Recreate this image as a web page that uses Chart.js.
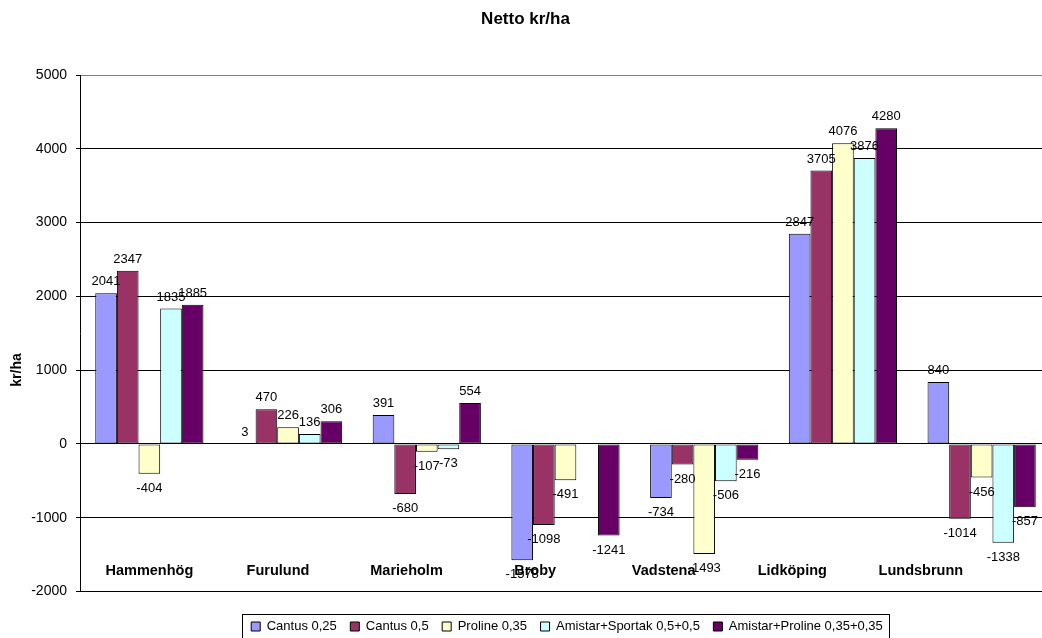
<!DOCTYPE html>
<html>
<head>
<meta charset="utf-8">
<script src="https://cdn.jsdelivr.net/npm/chart.js@4.4.1/dist/chart.umd.min.js"></script>
<style>
  html, body { margin: 0; padding: 0; background: #fff; overflow: hidden; }
  #wrap { width: 1062px; height: 638px; }
</style>
</head>
<body>
<div id="wrap"><canvas id="chart" width="1062" height="638"></canvas></div>
<script>
// data
const categories = ['Hammenhög', 'Furulund', 'Marieholm', 'Broby', 'Vadstena', 'Lidköping', 'Lundsbrunn'];
const seriesNames = ['Cantus 0,25', 'Cantus 0,5', 'Proline 0,35', 'Amistar+Sportak 0,5+0,5', 'Amistar+Proline 0,35+0,35'];
const cantus025 = [2041, 3, 391, -1578, -734, 2847, 840];
const cantus05 = [2347, 470, -680, -1098, -280, 3705, -1014];
const proline035 = [-404, 226, -107, -491, -1493, 4076, -456];
const amistarSportak = [1835, 136, -73, null, -506, 3876, -1338];
const amistarProline = [1885, 306, 554, -1241, -216, 4280, -857];
const yTicks = [-2000, -1000, 0, 1000, 2000, 3000, 4000, 5000];

const colors = ['#9999FF', '#993366', '#FFFFCC', '#CCFFFF', '#660066'];
const FONT = 'Liberation Sans, Arial, sans-serif';
const LEGEND_CENTER = 567;

Chart.defaults.font.family = FONT;
Chart.defaults.color = '#000';

// excel-ish extras: value labels, category labels inside plot, legend frame, y title
const excelBits = {
  id: 'excelBits',
  afterLayout(chart) {
    const lg = chart.legend;
    const dx = LEGEND_CENTER - (lg.left + lg.right) / 2;
    lg.left += dx;
    lg.right += dx;
    lg.legendHitBoxes.forEach(b => { b.left += dx; });
  },
  afterDatasetsDraw(chart) {
    const ctx = chart.ctx;
    ctx.save();
    ctx.fillStyle = '#000';
    ctx.textAlign = 'center';
    ctx.font = '13px ' + FONT;
    chart.data.datasets.forEach((ds, i) => {
      chart.getDatasetMeta(i).data.forEach((bar, j) => {
        const v = ds.data[j];
        if (v == null) return;
        if (v >= 0) {
          ctx.textBaseline = 'bottom';
          ctx.fillText(String(v), bar.x, bar.y - 5);
        } else {
          ctx.textBaseline = 'top';
          ctx.fillText(String(v), bar.x, bar.y + 8);
        }
      });
    });
    // category names sit low inside the plot, squeezed a bit to the left
    const xs = chart.scales.x;
    ctx.font = 'bold 14.5px ' + FONT;
    ctx.textBaseline = 'middle';
    categories.forEach((c, i) => {
      ctx.fillText(c, xs.getPixelForValue(i * 0.927), 571);
    });
    ctx.restore();
  },
  afterDraw(chart) {
    const ctx = chart.ctx;
    const boxes = chart.legend.legendHitBoxes;
    const first = boxes[0];
    const last = boxes[boxes.length - 1];
    ctx.save();
    ctx.strokeStyle = '#000';
    ctx.lineWidth = 1;
    const x0 = Math.round(first.left) - 8.5;
    const x1 = Math.round(last.left + last.width) + 6.5;
    const yc = first.top + first.height / 2;
    ctx.strokeRect(x0, Math.round(yc - 13) + 0.5, x1 - x0, 26);
    // y axis title
    ctx.translate(17, 370);
    ctx.rotate(-Math.PI / 2);
    ctx.font = 'bold 14px ' + FONT;
    ctx.fillStyle = '#000';
    ctx.textAlign = 'center';
    ctx.textBaseline = 'middle';
    ctx.fillText('kr/ha', 0, 0);
    ctx.restore();
  }
};

const seriesData = [cantus025, cantus05, proline035, amistarSportak, amistarProline];

new Chart(document.getElementById('chart').getContext('2d'), {
  type: 'bar',
  data: {
    labels: categories,
    datasets: seriesData.map((d, i) => ({
      label: seriesNames[i],
      data: d,
      backgroundColor: colors[i],
      borderColor: '#000',
      borderWidth: 1,
      borderSkipped: false,
      categoryPercentage: 0.78,
      barPercentage: 1
    }))
  },
  options: {
    responsive: false,
    animation: false,
    devicePixelRatio: 1,
    layout: { padding: { top: 0, right: 11, bottom: -5, left: 0 } },
    plugins: {
      title: {
        display: true,
        text: 'Netto kr/ha',
        font: { size: 17, weight: 'bold' },
        color: '#000',
        padding: { top: 9, bottom: 45.6 }
      },
      legend: {
        position: 'bottom',
        labels: {
          font: { size: 13 },
          color: '#000',
          boxWidth: 9,
          boxHeight: 9,
          padding: 13.5
        }
      },
      tooltip: { enabled: false }
    },
    scales: {
      x: {
        display: true,
        ticks: { display: false },
        grid: { display: false },
        border: { display: false },
        afterFit(scale) { scale.height = 15; }
      },
      y: {
        min: -2000,
        max: 5000,
        afterBuildTicks(scale) { scale.ticks = yTicks.map(v => ({ value: v })); },
        ticks: { font: { size: 14 }, color: '#000', padding: 9, callback: v => String(v) },
        grid: {
          color: ctx => (ctx.tick && ctx.tick.value === 5000 ? '#808080' : '#000'),
          lineWidth: 1,
          tickLength: 4,
          tickColor: '#000'
        },
        border: { display: true, color: '#000', width: 1 },
        afterFit(scale) { scale.width = 80; }
      }
    }
  },
  plugins: [excelBits]
});
</script>
</body>
</html>
